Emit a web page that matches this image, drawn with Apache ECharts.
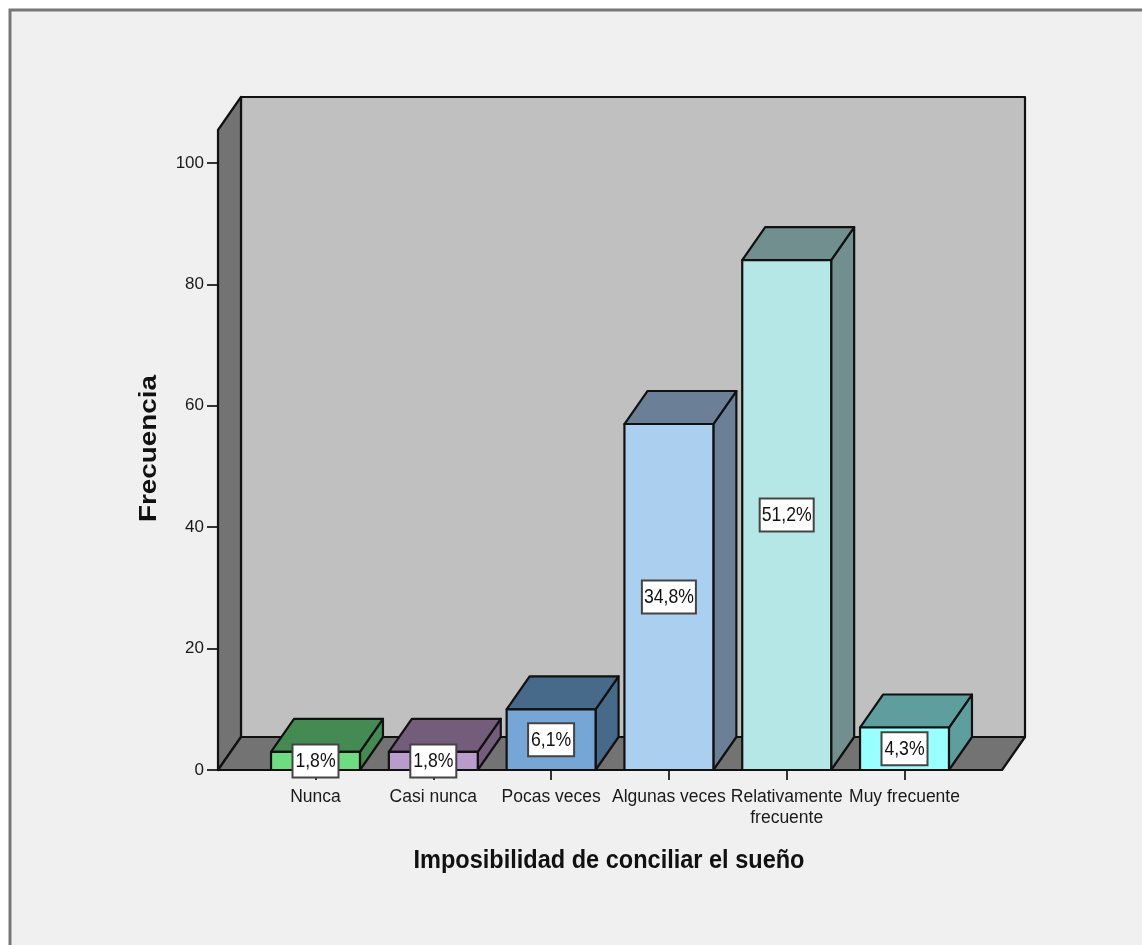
<!DOCTYPE html>
<html><head><meta charset="utf-8">
<style>html,body{margin:0;padding:0;background:#fff}#c{width:1142px;height:945px}</style>
<script src="https://cdn.jsdelivr.net/npm/echarts@6/dist/echarts.min.js"></script>
</head><body><div id="c"></div>
<script>
const categories = ['Nunca','Casi nunca','Pocas veces','Algunas veces','Relativamente\nfrecuente','Muy frecuente'];
const frequencies = [3,3,10,57,84,7];
const percentLabels = ['1,8%','1,8%','6,1%','34,8%','51,2%','4,3%'];
const frontColors = ['#6fdc82','#b99ccc','#75a6d6','#abcfee','#b5e7e7','#99ffff'];
const sideColors = ['#458a52','#735d7b','#47698a','#6b8096','#718f8e','#5f9e9e'];
const xTitle = 'Imposibilidad de conciliar el sueño';
const yTitle = 'Frecuencia';

const DX = 23, DY = -33, EDGE = '#111', SANS = '"Liberation Sans",Arial,sans-serif';
const poly = (points, fill) => ({type:'polygon', shape:{points}, style:{fill, stroke:EDGE, lineWidth:2.2, lineJoin:'round'}});

function renderWalls(params, api){
  const zero = api.coord([0,0]), top100 = api.coord([0,100]);
  const band = api.size([1,0])[0];
  const xL = zero[0] - band/2 - 38.6, xR = zero[0] + band*5.5 + 38.6;
  const y0 = zero[1], yT = top100[1] + DY;
  return {type:'group', children:[
    poly([[xL+DX,yT+DY],[xR+DX,yT+DY],[xR+DX,y0+DY],[xL+DX,y0+DY]], '#c0c0c0'),
    poly([[xL,yT],[xL+DX,yT+DY],[xL+DX,y0+DY],[xL,y0]], '#737373'),
    poly([[xL,y0],[xL+DX,y0+DY],[xR+DX,y0+DY],[xR,y0]], '#737373')
  ]};
}
function renderBar(params, api){
  const i = api.value(0), v = api.value(1);
  const base = api.coord([i,0]), top = api.coord([i,v]);
  const w = api.size([1,0])[0]*0.755;
  const l = base[0]-w/2, r = base[0]+w/2, b = base[1], t = top[1];
  return {type:'group', children:[
    poly([[r,b],[r+DX,b+DY],[r+DX,t+DY],[r,t]], sideColors[i]),
    poly([[l,t],[l+DX,t+DY],[r+DX,t+DY],[r,t]], sideColors[i]),
    poly([[l,t],[r,t],[r,b],[l,b]], frontColors[i])
  ]};
}
function renderLabel(params, api){
  const i = api.value(0), v = api.value(1);
  const c = api.coord([i,v/2]);
  const txt = percentLabels[i], w = txt.length > 4 ? 54 : 46, h = 33;
  return {type:'group', children:[
    {type:'rect', shape:{x:c[0]-w/2, y:c[1]-h/2, width:w, height:h},
     style:{fill:'#fff', stroke:'#444', lineWidth:2}},
    {type:'text', x:c[0], y:c[1]+0.5, scaleX:0.84, style:{x:0, y:0, text:txt, align:'center', verticalAlign:'middle',
      font:'21px '+SANS, fill:'#111'}}
  ]};
}
const data = frequencies.map((v,i)=>[i,v]);
const chart = echarts.init(document.getElementById('c'));
chart.setOption({
  animation:false,
  backgroundColor:'#fff',
  graphic:[
    {type:'rect', z:-1, silent:true, shape:{x:10,y:10,width:1200,height:1000},
      style:{fill:'#f0f0f0', stroke:'#777', lineWidth:3}},
    {type:'text', z:5, silent:true, x:149.5, y:448.5, rotation:Math.PI/2, scaleX:1.21,
      style:{x:0, y:0, text:yTitle, align:'center', verticalAlign:'middle',
        font:'bold 23px '+SANS, fill:'#111'}},
    {type:'text', z:5, silent:true, x:609, y:860.5, scaleX:0.905,
      style:{x:0, y:0, text:xTitle, align:'center', verticalAlign:'middle',
        font:'bold 26px '+SANS, fill:'#111'}}
  ],
  grid:{left:256.6, width:706.8, top:163, bottom:175, containLabel:false},
  xAxis:{type:'category', data:categories,
    axisLine:{show:false},
    axisTick:{show:true, alignWithLabel:true, length:10, lineStyle:{color:'#333', width:2}},
    axisLabel:{interval:0, margin:17, fontFamily:SANS, fontSize:17.5, lineHeight:21, color:'#1a1a1a'}
  },
  yAxis:{type:'value', min:0, max:100, interval:20, offset:38.6,
    splitLine:{show:false}, axisLine:{show:false},
    axisTick:{show:true, length:11, lineStyle:{color:'#333', width:2}},
    axisLabel:{margin:14, padding:[5,0,0,0], fontFamily:SANS, fontSize:17, color:'#1a1a1a'}
  },
  series:[
    {type:'custom', z:1, silent:true, renderItem:renderWalls, data:[[0,0]]},
    {type:'custom', z:2, silent:true, renderItem:renderBar, data:data},
    {type:'custom', z:3, silent:true, renderItem:renderLabel, data:data}
  ]
});
</script></body></html>
